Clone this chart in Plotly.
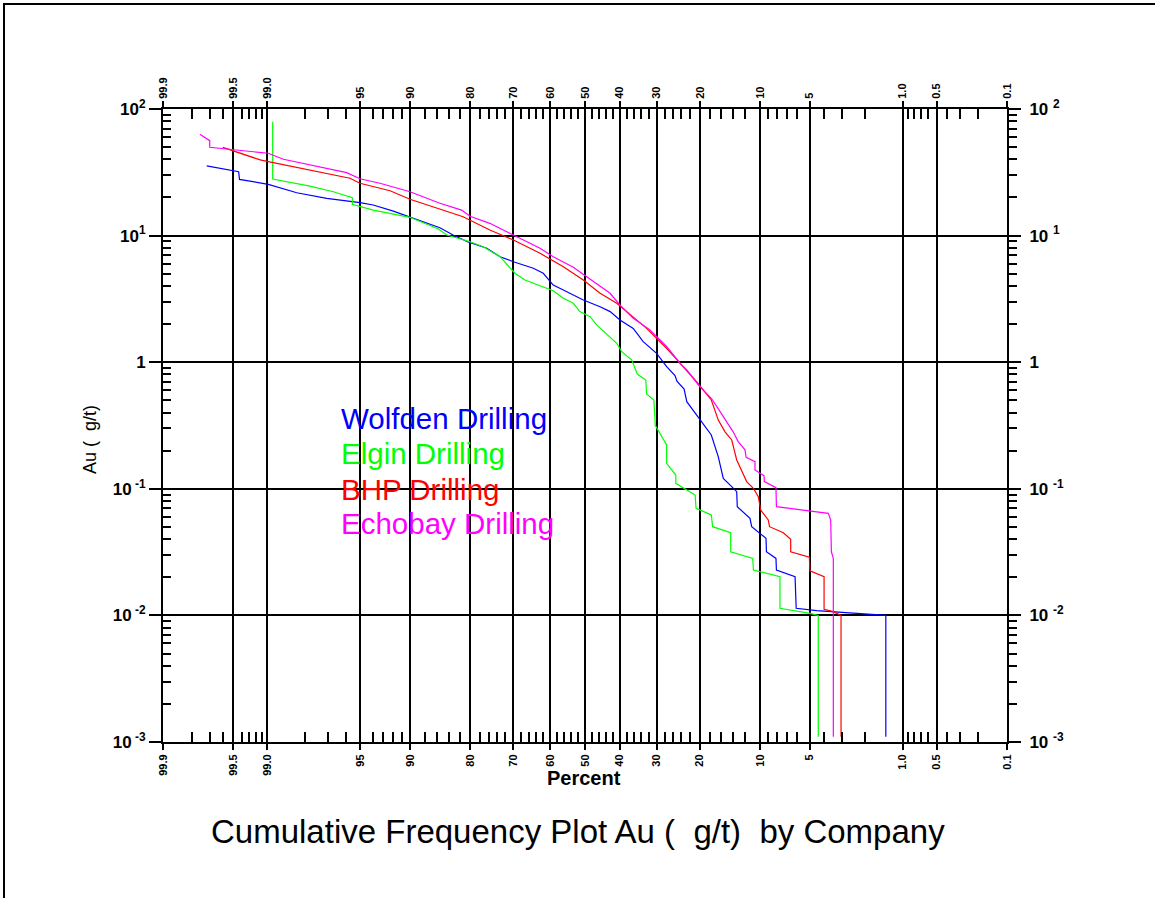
import plotly.graph_objects as go
from statistics import NormalDist

_nd = NormalDist()


def probit(p):
    return _nd.inv_cdf(p / 100.0)


# ---------------- data (percent, Au g/t) ----------------
wolfden_pct = [99.72, 99.44, 99.43, 98.98, 98.26, 97.07, 95.03, 93.95, 91.98, 90.0,
               85.6, 83.3, 80.4, 76.4, 73.3, 70.0, 64.75, 62.0, 59.2, 56.3,
               50.5, 45.6, 42.7, 39.9, 36.2, 33.5, 30.0, 27.5, 25.5, 25.0,
               23.4, 22.8, 20.35, 17.75, 16.45, 15.56, 14.13, 13.33, 13.24, 11.35,
               11.11, 9.25, 9.2, 8.10, 8.05, 6.20, 6.1, 4.49, 1.38, 1.38]
wolfden_au = [35.5, 32.0, 27.8, 25.4, 21.8, 19.7, 18.2, 17.45, 15.6, 13.95,
              11.55, 10.1, 8.9, 7.94, 6.81, 6.22, 5.52, 5.04, 4.07, 3.72,
              3.10, 2.74, 2.51, 2.155, 1.85, 1.452, 1.176, 0.922, 0.785, 0.704,
              0.614, 0.488, 0.371, 0.266, 0.179, 0.121, 0.104, 0.0949, 0.0722, 0.0585,
              0.0502, 0.0406, 0.0318, 0.0282, 0.0228, 0.0202, 0.01138, 0.0109, 0.0100, 0.0011]

elgin_pct = [98.89, 98.89, 97.80, 96.73, 95.58, 95.58, 93.95, 90.0, 85.86, 84.44,
             80.0, 77.2, 73.3, 69.6, 67.0, 59.2, 56.3, 53.4, 51.5, 48.5,
             46.6, 40.8, 39.4, 36.6, 35.1, 32.8, 32.6, 30.7, 30.4, 30.4,
             27.5, 27.5, 25.3, 25.3, 21.0, 20.8, 17.75, 17.5, 14.3, 14.3,
             10.97, 10.87, 7.67, 7.67, 4.97, 4.38, 4.38]
elgin_au = [79.4, 28.0, 24.6, 22.2, 19.9, 17.7, 15.9, 13.95, 11.27, 10.1,
            8.95, 8.17, 6.81, 5.04, 4.46, 3.67, 3.20, 2.92, 2.51, 2.29,
            1.97, 1.41, 1.21, 1.04, 0.807, 0.724, 0.561, 0.503, 0.349, 0.319,
            0.222, 0.159, 0.1285, 0.1105, 0.0893, 0.0702, 0.0621, 0.0502, 0.045, 0.0318,
            0.0282, 0.0228, 0.0202, 0.01138, 0.01039, 0.0100, 0.0011]

bhp_pct = [99.60, 99.42, 99.13, 98.98, 95.74, 95.03, 92.33, 90.0, 85.6, 81.4,
           75.7, 70.0, 62.9, 56.3, 50.5, 45.6, 40.8, 36.2, 32.6, 30.0,
           27.1, 24.3, 20.7, 17.75, 16.45, 15.26, 14.13, 13.33, 11.82, 10.89,
           10.22, 9.91, 8.98, 8.83, 7.32, 6.60, 6.60, 5.02, 4.98, 4.00,
           4.00, 3.45, 3.04, 3.04]
bhp_au = [49.8, 44.7, 39.6, 38.4, 28.4, 25.9, 22.6, 19.35, 16.2, 14.1,
          11.07, 9.23, 7.25, 5.68, 4.46, 3.50, 2.92, 2.29, 1.85, 1.545,
          1.248, 0.980, 0.701, 0.503, 0.349, 0.282, 0.243, 0.169, 0.114, 0.101,
          0.0866, 0.068, 0.0567, 0.0502, 0.045, 0.0399, 0.0318, 0.0288, 0.0225, 0.0202,
          0.01117, 0.0107, 0.0100, 0.0011]

echobay_pct = [99.76, 99.70, 99.70, 98.98, 98.64, 97.53, 95.95, 95.03, 93.34, 90.0,
               85.6, 81.7, 80.0, 75.7, 70.0, 62.9, 59.2, 53.4, 49.5, 45.6,
               42.7, 39.9, 36.2, 31.7, 27.5, 24.3, 22.8, 20.0, 17.75, 16.5,
               13.9, 13.1, 12.07, 11.9, 10.66, 10.66, 9.50, 9.45, 8.10, 8.05,
               3.74, 3.60, 3.56, 3.45, 3.45]
echobay_au = [63.1, 56.2, 49.8, 44.7, 40.1, 35.5, 31.4, 28.1, 25.9, 22.2,
              18.0, 15.9, 14.2, 12.5, 10.1, 7.94, 6.81, 5.62, 4.73, 3.95,
              3.50, 2.83, 2.22, 1.80, 1.33, 0.980, 0.868, 0.640, 0.519, 0.432,
              0.282, 0.236, 0.203, 0.177, 0.164, 0.141, 0.127, 0.114, 0.102, 0.0722,
              0.0640, 0.0567, 0.0318, 0.0282, 0.0011]

series_names = ["Wolfden Drilling", "Elgin Drilling", "BHP Drilling", "Echobay Drilling"]
series_colors = ["#0000ff", "#00ff00", "#ff0000", "#ff00ff"]
series_pct = [wolfden_pct, elgin_pct, bhp_pct, echobay_pct]
series_au = [wolfden_au, elgin_au, bhp_au, echobay_au]

# axis ticks
major_pct = [99.9, 99.5, 99.0, 95, 90, 80, 70, 60, 50, 40, 30, 20, 10, 5, 1.0, 0.5, 0.1]
major_pct_text = ["99.9", "99.5", "99.0", "95", "90", "80", "70", "60", "50", "40",
                  "30", "20", "10", "5", "1.0", "0.5", "0.1"]
minor_pct = [99.8, 99.7, 99.6, 99.4, 99.3, 99.2, 99.1, 98, 97, 96, 94, 93, 92, 91,
             88, 86, 84, 82, 78, 76, 74, 72, 68, 66, 64, 62, 58, 56, 54, 52,
             48, 46, 44, 42, 38, 36, 34, 32, 28, 26, 24, 22, 18, 16, 14, 12,
             9, 8, 7, 6, 4, 3, 2, 0.9, 0.8, 0.7, 0.6, 0.4, 0.3, 0.2]
y_major = [0.001, 0.01, 0.1, 1, 10, 100]
y_text_left = ["<b>10<sup> -3</sup></b>", "<b>10<sup> -2</sup></b>", "<b>10<sup> -1</sup></b>",
               "<b>1</b>", "<b>10<sup>1</sup></b>", "<b>10<sup>2</sup></b>"]
y_text_right = ["<b>10 <sup>-3</sup></b>", "<b>10 <sup>-2</sup></b>", "<b>10 <sup>-1</sup></b>",
                "<b>1</b>", "<b>10 <sup>1</sup></b>", "<b>10 <sup>2</sup></b>"]
y_minor = [m * 10 ** e for e in range(-3, 2) for m in range(2, 10)]

FONT = "Arial, Liberation Sans, sans-serif"

fig = go.Figure()
for name, col, pc, au in zip(series_names, series_colors, series_pct, series_au):
    fig.add_trace(go.Scatter(x=[probit(p) for p in pc], y=au, mode="lines",
                             line=dict(color=col, width=1.2), name=name,
                             showlegend=False, hoverinfo="skip"))
# dummy trace for mirrored axes
fig.add_trace(go.Scatter(x=[None], y=[None], xaxis="x2", yaxis="y2",
                         showlegend=False, hoverinfo="skip"))

zmax = probit(99.9)
zmin = probit(0.1)
xt = [probit(p) for p in major_pct]
xm = [probit(p) for p in minor_pct]

xcommon = dict(range=[zmax, zmin], tickmode="array", tickvals=xt,
               ticktext=["<b>%s</b>" % t for t in major_pct_text],
               tickangle=-90, tickfont=dict(family=FONT, size=11, color="black"),
               ticks="outside", ticklen=6, tickwidth=2, tickcolor="black",
               showline=True, linewidth=2, linecolor="black", zeroline=False,
               minor=dict(tickmode="array", tickvals=xm, ticks="inside", ticklen=10,
                          tickwidth=2, tickcolor="black", showgrid=False))
ycommon = dict(type="log", range=[-3, 2], tickmode="array", tickvals=y_major,
               tickfont=dict(family=FONT, size=17, color="black"),
               ticks="outside", ticklen=12, tickwidth=2, tickcolor="black",
               showline=True, linewidth=2, linecolor="black", zeroline=False)

fig.update_layout(
    width=1155, height=898,
    margin=dict(l=163, r=148, t=109, b=156),
    paper_bgcolor="white", plot_bgcolor="white",
    showlegend=False,
    xaxis=dict(**xcommon, side="bottom", showgrid=True, gridcolor="black", gridwidth=1.6),
    xaxis2=dict(**xcommon, side="top", overlaying="x", anchor="y", showgrid=False),
    yaxis=dict(**ycommon, side="left", ticktext=y_text_left, showgrid=True,
               gridcolor="black", gridwidth=2,
               minor=dict(tickmode="array", tickvals=y_minor, ticks="inside", ticklen=8,
                          tickwidth=2, tickcolor="black", showgrid=False)),
    yaxis2=dict(**ycommon, side="right", overlaying="y", anchor="x", ticktext=y_text_right,
                showgrid=False, ticklabelstandoff=5,
                minor=dict(tickmode="array", tickvals=y_minor, ticks="outside", ticklen=8,
                           tickwidth=2, tickcolor="black", showgrid=False)),
)


def px_x(px):
    return (px - 163) / 844.0


def px_y(py):
    return (742 - py) / 633.0


ann = []
ann.append(dict(text="Au (\u00a0\u00a0g/t)", x=px_x(90), y=px_y(440), xref="paper", yref="paper",
                xanchor="center", yanchor="middle",
                textangle=-90, showarrow=False, font=dict(family=FONT, size=18, color="black")))
ann.append(dict(text="<b>Percent</b>", x=px_x(584), y=px_y(778), xref="paper", yref="paper",
                xanchor="center", yanchor="middle",
                showarrow=False, font=dict(family=FONT, size=20, color="black")))
ann.append(dict(text="Cumulative Frequency Plot Au (\u00a0\u00a0g/t)\u00a0\u00a0by Company",
                x=px_x(578), y=px_y(831), xref="paper", yref="paper", showarrow=False,
                xanchor="center", yanchor="middle",
                font=dict(family=FONT, size=33, color="black")))
leg_y = [418, 453, 489, 523]
for name, col, yy in zip(series_names, series_colors, leg_y):
    ann.append(dict(text=name, x=px_x(339), y=px_y(yy), xref="paper", yref="paper",
                    xanchor="left", yanchor="middle", showarrow=False,
                    font=dict(family=FONT, size=29.5, color=col)))
fig.update_layout(annotations=ann)

fig.add_shape(type="rect", xref="paper", yref="paper",
              x0=px_x(4), x1=px_x(1165), y0=px_y(910), y1=px_y(4),
              line=dict(color="black", width=2), fillcolor="rgba(0,0,0,0)")

fig.write_html("out.html", config={"displayModeBar": False},
               post_script="document.body.style.margin='0px';document.body.style.overflow='hidden';")
